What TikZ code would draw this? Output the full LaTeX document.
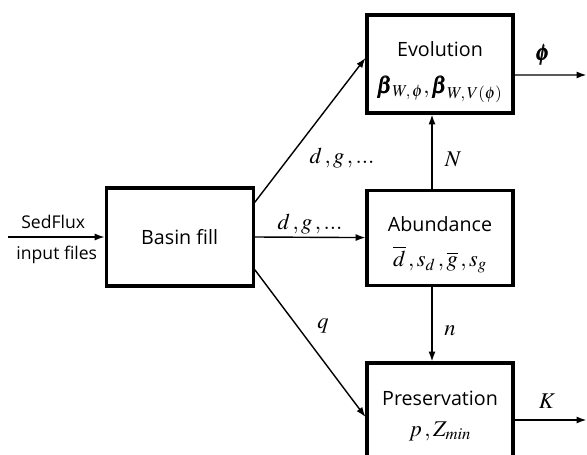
\documentclass[tikz,border=0pt]{standalone}
\usepackage{amsmath}
\usepackage{amssymb}
\usepackage{mathptmx}
\usepackage{fontspec}
\setmainfont{Open Sans}
\usetikzlibrary{arrows.meta}

\newcommand{\mth}[1]{{\fontsize{16}{19}\selectfont$#1$}}

\tikzset{
  blk/.style={draw, line width=2.2pt, minimum width=3.65cm, minimum height=2.45cm, align=center},
  flow/.style={line width=1pt, -{Latex[length=7pt,width=5pt]}},
  note/.style={font=\fontsize{12.5}{15}\selectfont}
}

\begin{document}
\begin{tikzpicture}[font=\fontsize{14}{17}\selectfont]
    \useasboundingbox (0,0) rectangle (14.675,11.35);

    % Boxes
    \node[blk, minimum width=3.675cm] (basin) at (4.49,5.425) {Basin fill};
    \node[blk] (evol) at (11,9.75) {\rule{0pt}{22pt}Evolution\\[9pt] \mth{\pmb{\beta}_{W\!,\,\phi},\pmb{\beta}_{W\!,\,V(\phi)}}};
    \node[blk, minimum height=2.375cm] (abund) at (11,5.41) {\rule{0pt}{21pt}Abundance\\[8pt] \mth{\overline{d}\,,s_d\,,\overline{g}\,,s_g}};
    \node[blk] (pres) at (11,1.05) {\rule{0pt}{16pt}Preservation\\[5pt] \mth{p\,,Z_{\mathit{min}}}};

    % Free ends
    \coordinate (in) at (0.2,5.425);
    \coordinate (phiout) at (14.66,9.475);
    \coordinate (kout) at (14.66,0.85);

    % Arrows
    \draw[flow] (in) -- (basin.west);
    \draw[flow] ([yshift=-0.4cm]basin.north east) -- ([yshift=0.15cm]evol.west);
    \draw[flow] (basin.east) -- (abund.west);
    \draw[flow] ([yshift=0.45cm]basin.south east) -- ([yshift=-0.125cm]pres.west);
    \draw[flow] ([xshift=-0.2cm]abund.north) -- ([xshift=-0.2cm]evol.south);
    \draw[flow] ([xshift=-0.2cm]abund.south) -- ([xshift=-0.2cm]pres.north);
    \draw[flow] ([yshift=-0.275cm]evol.east) -- (phiout);
    \draw[flow] ([yshift=-0.2cm]pres.east) -- (kout);

    % Labels
    \node[note] (sed) at (1.33,5.8) {SedFlux};
    \node[note] (files) at (1.42,4.975) {input files};
    \node (dg1) at (8.55,7.4) {\mth{d\,,g\,,...}};
    \node (dg2) at (7.75,5.75) {\mth{d\,,g\,,...}};
    \node (q) at (8.075,3.2) {\mth{q}};
    \node (N) at (11.325,7.375) {\mth{N}};
    \node (n) at (11.25,3.075) {\mth{n}};
    \node (phi) at (13.575,9.975) {\mth{\pmb{\phi}}};
    \node (K) at (13.675,1.325) {\mth{K}};
\end{tikzpicture}
\end{document}
